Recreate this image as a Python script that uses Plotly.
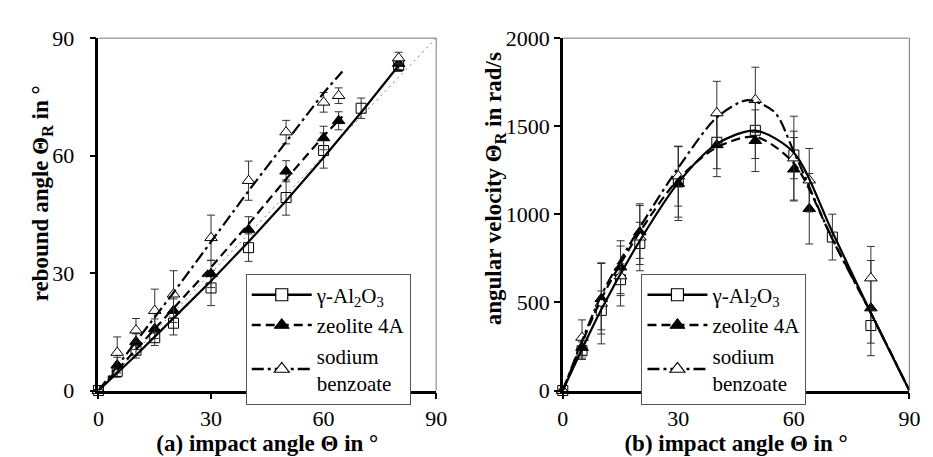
import plotly.graph_objects as go

# ---- (a) rebound angle vs impact angle ----
X_AL_A = [0, 5, 10, 15, 20, 30, 40, 50, 60, 70, 80]
AL_A = [0, 4.9, 10.3, 13.5, 17.2, 26.2, 36.5, 49.3, 61.3, 72.1, 83.0]
AL_A_ERR = [0, 1.5, 2, 2, 3, 4.5, 3.5, 4.5, 4.5, 2.6, 1.5]

X_ZE_A = [0, 5, 10, 15, 20, 30, 40, 50, 60, 64, 80]
ZE_A = [0, 6.5, 12.5, 15.8, 20.4, 29.8, 41.1, 56.0, 64.5, 68.9, 83.5]
ZE_A_ERR = [0, 2, 2, 2.5, 3, 3.5, 3.3, 2.7, 3, 2.3, 1.5]

X_SB_A = [0, 5, 10, 15, 20, 30, 40, 50, 60, 64, 80]
SB_A = [0, 9.7, 15.4, 20.4, 24.6, 39.0, 53.6, 66.0, 73.6, 75.3, 84.9]
SB_A_ERR = [0, 4, 3, 5.5, 6, 5.8, 5, 3, 2.5, 2, 1.5]

FIT_X_AL_A = [0, 10, 20, 30, 40, 50, 60, 70, 80]
FIT_AL_A = [0, 9, 18.5, 28, 38, 48.5, 59.5, 71, 83]
FIT_X_A = [0, 10, 20, 30, 40, 50, 60, 65]
FIT_ZE_A = [0, 10.5, 21, 31.5, 42.5, 54, 65, 70]
FIT_SB_A = [0, 12.5, 25, 38, 51, 63.5, 76, 81.5]
IDENT = [0, 90]

# ---- (b) angular velocity vs impact angle ----
X_AL_B = [0, 5, 10, 15, 20, 30, 40, 50, 60, 70, 80]
AL_B = [0, 226, 455, 629, 835, 1184, 1409, 1477, 1337, 871, 369]
AL_B_ERR = [0, 50, 110, 90, 120, 200, 150, 160, 135, 130, 100]

X_ZE_B = [0, 5, 10, 15, 20, 30, 40, 50, 60, 64, 80]
ZE_B = [0, 244, 521, 700, 900, 1175, 1394, 1418, 1256, 1032, 468]
ZE_B_ERR = [0, 60, 200, 150, 150, 210, 180, 175, 180, 200, 270]

X_SB_B = [0, 5, 10, 15, 20, 30, 40, 50, 60, 64, 80]
SB_B = [0, 301, 495, 650, 870, 1217, 1575, 1650, 1319, 1194, 638]
SB_B_ERR = [0, 100, 230, 170, 190, 170, 180, 185, 238, 180, 180]

FIT_X_B = [0, 10, 20, 30, 40, 50, 60, 70, 80, 90]
FIT_AL_B = [0, 460, 850, 1180, 1400, 1475, 1350, 900, 440, 0]
FIT_ZE_B = [0, 520, 900, 1200, 1380, 1440, 1290, 860, 440, 0]
FIT_X_SB_B = [0, 10, 20, 30, 40, 48, 55, 60, 70, 80, 90]
FIT_SB_B = [0, 540, 925, 1265, 1550, 1648, 1580, 1355, 860, 440, 0]

NAMES = ["γ-Al<sub>2</sub>O<sub>3</sub>", "zeolite 4A", "sodium<br>benzoate"]
FONT = "Liberation Serif"

SQ = dict(symbol="square-open", size=10, color="black", line=dict(width=1))
TRI_F = dict(symbol="triangle-up", size=11, color="black", line=dict(width=1, color="black"))
TRI_O = dict(symbol="triangle-up", size=11, color="white", line=dict(width=1, color="black"))
SQ_LEG = dict(symbol="square", size=12, color="white", line=dict(width=1.2, color="black"))
TRI_F_LEG = dict(symbol="triangle-up", size=13, color="black", line=dict(width=1, color="black"))
TRI_O_LEG = dict(symbol="triangle-up", size=13, color="white", line=dict(width=1.2, color="black"))
DASH = "9px,5px"
DASHDOT = "12px,4px,3px,4px"

fig = go.Figure()


def add_panel(fig, xa, ya, leg, data, fits, smooth):
    styles = [(SQ, "solid"), (TRI_F, DASH), (TRI_O, DASHDOT)]
    for (x, y, e), (mk, dash) in zip(data, styles):
        fig.add_trace(go.Scatter(
            x=x, y=y, mode="markers", marker=mk, xaxis=xa, yaxis=ya,
            error_y=dict(type="data", array=e, color="#333", thickness=1, width=4),
            showlegend=False, cliponaxis=False,
        ))
    for (fx, fy), (mk, dash) in zip(fits, styles):
        fig.add_trace(go.Scatter(
            x=fx, y=fy, mode="lines", xaxis=xa, yaxis=ya, showlegend=False,
            line=dict(color="black", width=2.2, dash=dash,
                      shape="spline" if smooth else "linear", smoothing=0.8),
        ))
    legmk = [SQ_LEG, TRI_F_LEG, TRI_O_LEG]
    for name, (mk, dash), lm in zip(NAMES, styles, legmk):
        fig.add_trace(go.Scatter(
            x=[None], y=[None], mode="lines+markers", name=name, legend=leg,
            xaxis=xa, yaxis=ya, marker=lm,
            line=dict(color="black", width=2.5, dash=dash),
        ))


fig.add_trace(go.Scatter(
    x=IDENT, y=IDENT, mode="lines", xaxis="x", yaxis="y", showlegend=False,
    line=dict(color="#777", width=1, dash="2px,4px"),
))
add_panel(fig, "x", "y", "legend",
          [(X_AL_A, AL_A, AL_A_ERR), (X_ZE_A, ZE_A, ZE_A_ERR), (X_SB_A, SB_A, SB_A_ERR)],
          [(FIT_X_AL_A, FIT_AL_A), (FIT_X_A, FIT_ZE_A), (FIT_X_A, FIT_SB_A)], False)
add_panel(fig, "x2", "y2", "legend2",
          [(X_AL_B, AL_B, AL_B_ERR), (X_ZE_B, ZE_B, ZE_B_ERR), (X_SB_B, SB_B, SB_B_ERR)],
          [(FIT_X_B, FIT_AL_B), (FIT_X_B, FIT_ZE_B), (FIT_X_SB_B, FIT_SB_B)], True)

axis_common = dict(
    showline=True, linecolor="black", linewidth=2.5, ticks="outside", ticklen=6,
    tickwidth=1.5, tickcolor="black", showgrid=False, zeroline=False,
    tickfont=dict(family=FONT, size=22, color="black"),
)
title_font = dict(family=FONT, size=23, color="black", weight="bold")

legend_common = dict(
    font=dict(family=FONT, size=21, color="black"), bgcolor="white",
    bordercolor="#555", borderwidth=1, itemwidth=60, xanchor="left", yanchor="top",
    tracegroupgap=0,
)

fig.update_layout(
    width=933, height=457, margin=dict(l=0, r=0, t=0, b=0),
    plot_bgcolor="white", paper_bgcolor="white",
    font=dict(family=FONT, color="black"),
    xaxis=dict(axis_common, domain=[0.0922, 0.4609], range=[0, 90], dtick=30,
               title=dict(text="(a) impact angle Θ in °", font=title_font, standoff=6)),
    yaxis=dict(axis_common, domain=[0.1422, 0.958], range=[0, 90], dtick=30,
               ticksuffix="\u00a0\u00a0"),
    xaxis2=dict(axis_common, domain=[0.5991, 0.9775], range=[0, 90], dtick=30, anchor="y2",
                title=dict(text="(b) impact angle Θ in °", font=title_font, standoff=6)),
    yaxis2=dict(axis_common, domain=[0.1422, 0.958], range=[0, 2000], dtick=500, anchor="x2"),
    legend=dict(legend_common, x=0.253, y=0.413),
    legend2=dict(legend_common, x=0.685, y=0.413),
)

# y-axis titles, placed as in the original (slightly above the axis centre)
fig.add_annotation(text="rebound angle Θ<sub>R</sub> in °", xref="paper", yref="paper",
                   x=0.030, y=0.60, xanchor="center", yanchor="middle",
                   textangle=-90, showarrow=False, font=title_font)
fig.add_annotation(text="angular velocity Θ<sub>R</sub> in rad/s", xref="paper", yref="paper",
                   x=0.526, y=0.61, xanchor="center", yanchor="middle",
                   textangle=-90, showarrow=False, font=title_font)

# thin grey frame on top and right of each plot area
for xr, yr in [("x domain", "y domain"), ("x2 domain", "y2 domain")]:
    fig.add_shape(type="path", path="M 0 1 L 1 1 L 1 0", xref=xr, yref=yr,
                  line=dict(color="#777", width=1))

fig.write_html("out.html")
